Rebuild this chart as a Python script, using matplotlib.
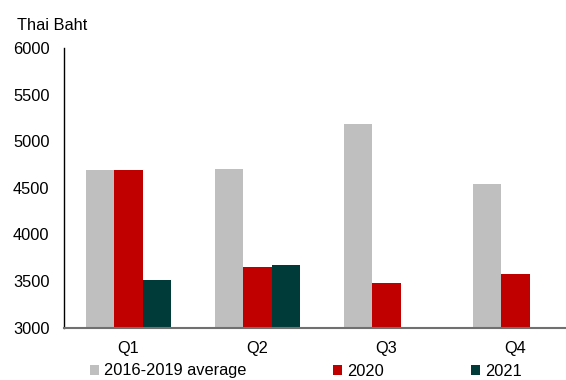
import numpy as np
import matplotlib
matplotlib.use("Agg")
import matplotlib.pyplot as plt

# quarterly values
quarters = ["Q1", "Q2", "Q3", "Q4"]
avg_2016_2019 = [4690, 4705, 5180, 4545]
y2020 = [4690, 3650, 3480, 3575]
y2021 = [3505, 3670, np.nan, np.nan]
series_names = ["2016-2019 average", "2020", "2021"]
colors = ["#BFBFBF", "#C00000", "#003B3A"]

plt.rcParams["font.family"] = ["Liberation Sans", "DejaVu Sans"]
plt.rcParams["font.size"] = 11.8

fig = plt.figure(figsize=(5.66, 3.8), dpi=100)
ax = fig.add_axes([64 / 566, 52.5 / 380, 502 / 566, 279.5 / 380])

x = np.arange(len(quarters))
w = 0.222
for i, (vals, name, c) in enumerate(zip([avg_2016_2019, y2020, y2021], series_names, colors)):
    ax.bar(x + (i - 1) * w, np.array(vals) - 3000, width=w, bottom=3000,
           color=c, label=name, zorder=2)

ax.set_ylim(3000, 6000)
ax.set_yticks(np.arange(3000, 6001, 500))
ax.set_xlim(-0.5, -0.5 + 502 / 129)
ax.set_xticks(x)
ax.set_xticklabels(quarters)
ax.tick_params(axis="both", length=0)
ax.tick_params(axis="y", pad=10.5)
ax.tick_params(axis="x", pad=10)

for s in ["top", "right"]:
    ax.spines[s].set_visible(False)
ax.spines["left"].set_color("black")
ax.spines["left"].set_linewidth(1.0)
ax.spines["bottom"].set_color("#707070")
ax.spines["bottom"].set_linewidth(1.5)

fig.text(17 / 566, 1 - 25 / 380, "Thai Baht", va="center", ha="left")

fig.legend(loc="center left", bbox_to_anchor=(90 / 566, 9 / 380),
           bbox_transform=fig.transFigure, ncol=3, frameon=False,
           handlelength=0.55, handleheight=0.55, handletextpad=0.3,
           columnspacing=5.3, borderpad=0, borderaxespad=0)

fig.savefig("out.png", dpi=100)
